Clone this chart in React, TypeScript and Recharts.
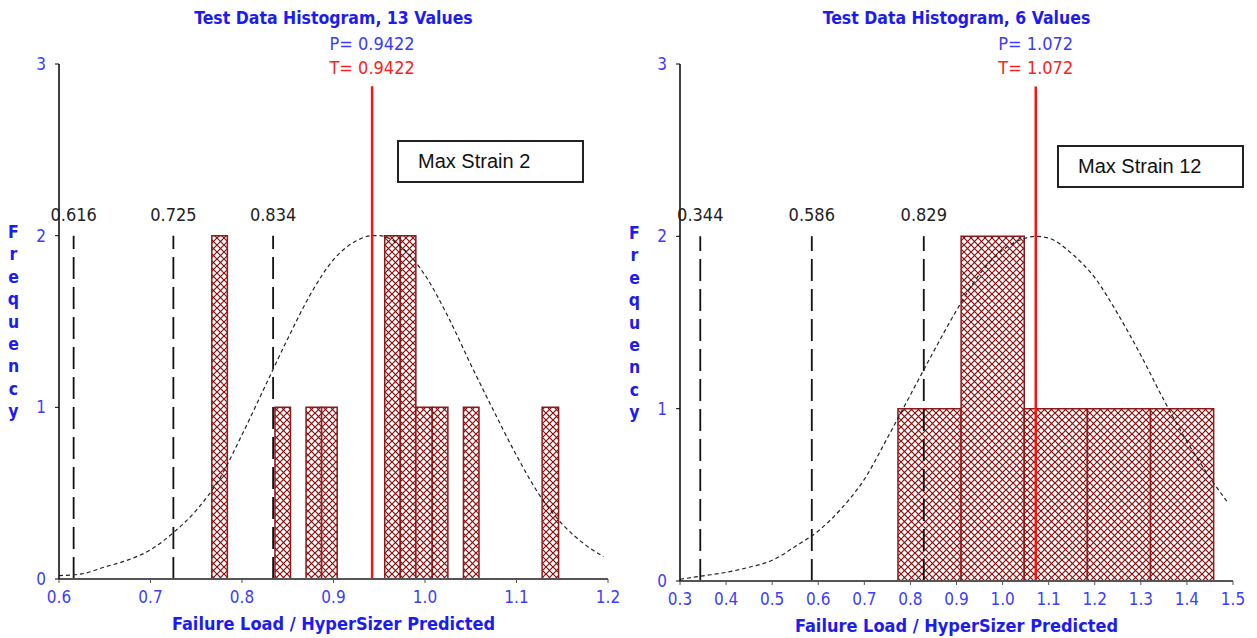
import React from 'react';
import {
  ComposedChart,
  Line,
  XAxis,
  YAxis,
  ReferenceArea,
  ReferenceLine,
} from 'recharts';

const TAHOMA = '"DejaVu Sans Condensed", "DejaVu Sans", sans-serif';
const ARIAL = '"Liberation Sans", Arial, sans-serif';
const BLUE = '#1c1cf0';
const TICK_BLUE = '#3c3cff';
const BAR_RED = '#8b1a1a';

// --- Max Strain 2: 13 test values ---
const leftBinFrom = [0.767, 0.836, 0.87, 0.887, 0.956, 0.973, 0.99, 1.008, 1.042, 1.128];
const leftBinTo = [0.784, 0.853, 0.887, 0.904, 0.973, 0.99, 1.008, 1.025, 1.059, 1.146];
const leftCounts = [2, 1, 1, 1, 2, 2, 1, 1, 1, 1];
const leftCurveX = [
  0.6, 0.625, 0.65, 0.675, 0.7, 0.725, 0.75, 0.775, 0.8, 0.825, 0.85, 0.875, 0.9,
  0.925, 0.9422, 0.95, 0.975, 1.0, 1.025, 1.05, 1.075, 1.1, 1.125, 1.15, 1.175, 1.195,
];
const leftCurveY = [
  0.02, 0.03, 0.07, 0.11, 0.17, 0.27, 0.4, 0.58, 0.84, 1.12, 1.4, 1.66, 1.86,
  1.97, 2.0, 2.0, 1.93, 1.77, 1.53, 1.25, 0.98, 0.72, 0.49, 0.32, 0.2, 0.13,
];
const leftBounds = [0.616, 0.725, 0.834];
const leftMean = 0.9422;
const leftTicks = [0.6, 0.7, 0.8, 0.9, 1.0, 1.1, 1.2];

// --- Max Strain 12: 6 test values ---
const rightBinFrom = [0.773, 0.91, 1.047, 1.184, 1.321];
const rightBinTo = [0.91, 1.047, 1.184, 1.321, 1.458];
const rightCounts = [1, 2, 1, 1, 1];
const rightCurveX = [
  0.3, 0.35, 0.4, 0.45, 0.5, 0.55, 0.6, 0.65, 0.7, 0.75, 0.8, 0.85, 0.9, 0.95,
  1.0, 1.05, 1.072, 1.1, 1.15, 1.2, 1.25, 1.3, 1.35, 1.4, 1.45, 1.49,
];
const rightCurveY = [
  0.01, 0.03, 0.05, 0.08, 0.12, 0.2, 0.29, 0.42, 0.59, 0.83, 1.08, 1.33, 1.57, 1.78,
  1.92, 1.99, 2.0, 1.99, 1.9, 1.76, 1.55, 1.31, 1.05, 0.81, 0.6, 0.45,
];
const rightBounds = [0.344, 0.586, 0.829];
const rightMean = 1.072;
const rightTicks = [0.3, 0.4, 0.5, 0.6, 0.7, 0.8, 0.9, 1.0, 1.1, 1.2, 1.3, 1.4, 1.5];

const freqTicks = [0, 1, 2, 3];
// top of the red mean marker, in frequency units
const MEAN_TOP = 2.87;

const FreqLabel = (props: any) => {
  const { viewBox } = props;
  const letters = 'Frequency'.split('');
  const cx = viewBox.x - 5.5;
  const step = 22.4;
  const first = viewBox.y + viewBox.height / 2 - 4 * step + 6;
  return (
    <text textAnchor="middle" fill={BLUE} fontFamily={TAHOMA} fontWeight="bold" fontSize={17.5}>
      {letters.map((ch, i) => (
        <tspan key={i} x={cx} y={first + i * step}>
          {ch}
        </tspan>
      ))}
    </text>
  );
};

interface HistProps {
  width: number;
  margin: { top: number; right: number; bottom: number; left: number };
  title: string;
  note: string;
  noteLeft: number;
  noteTop: number;
  binFrom: number[];
  binTo: number[];
  counts: number[];
  curveX: number[];
  curveY: number[];
  bounds: number[];
  mean: number;
  ticks: number[];
}

function Histogram(p: HistProps) {
  const height = 638;
  const yAxisW = 40;
  const plotLeft = p.margin.left + yAxisW;
  const plotW = p.width - plotLeft - p.margin.right;
  const curve = p.curveX.map((x, i) => ({ x, y: p.curveY[i] }));
  const lastBin = p.binTo[p.binTo.length - 1];
  const meanText = String(p.mean);

  return (
    <div style={{ position: 'relative', width: p.width, height }}>
      <div
        style={{
          position: 'absolute',
          left: plotLeft,
          width: plotW,
          top: 8,
          textAlign: 'center',
          fontFamily: TAHOMA,
          fontWeight: 'bold',
          fontSize: 17.5,
          lineHeight: '20px',
          color: BLUE,
        }}
      >
        {p.title}
      </div>
      <div
        style={{
          position: 'absolute',
          left: p.noteLeft,
          top: p.noteTop,
          width: 183,
          height: 39,
          border: '2px solid #222',
          boxSizing: 'content-box',
          display: 'flex',
          alignItems: 'center',
          fontFamily: ARIAL,
          fontSize: 20,
          color: '#111',
          background: '#fff',
          zIndex: 2,
        }}
      >
        <span style={{ marginLeft: 19 }}>{p.note}</span>
      </div>
      <ComposedChart width={p.width} height={height} data={curve} margin={p.margin}>
        <XAxis
          dataKey="x"
          type="number"
          domain={[p.ticks[0], p.ticks[p.ticks.length - 1]]}
          ticks={p.ticks}
          interval={0}
          allowDataOverflow
          tickFormatter={(v: number) => v.toFixed(1)}
          tick={{ fill: TICK_BLUE, fontSize: 17, fontFamily: TAHOMA }}
          tickSize={4}
          tickMargin={8}
          axisLine={{ stroke: '#555', strokeWidth: 2 }}
          tickLine={{ stroke: '#555' }}
          height={30}
          label={{
            value: 'Failure Load / HyperSizer Predicted',
            position: 'bottom',
            offset: 8,
            fill: BLUE,
            fontSize: 18,
            fontWeight: 'bold',
            fontFamily: TAHOMA,
          }}
        />
        <YAxis
          type="number"
          domain={[0, 3]}
          ticks={freqTicks}
          interval={0}
          width={yAxisW}
          tick={{ fill: TICK_BLUE, fontSize: 17, fontFamily: TAHOMA }}
          tickSize={4}
          tickMargin={9}
          axisLine={{ stroke: '#000', strokeWidth: 1.5 }}
          tickLine={{ stroke: '#000' }}
          label={<FreqLabel />}
        />
        {p.counts.map((c, i) => (
          <ReferenceArea
            key={'bin' + i}
            x1={p.binFrom[i]}
            x2={p.binTo[i]}
            y1={0}
            y2={c}
            fill="url(#xhatch)"
            fillOpacity={1}
            stroke={BAR_RED}
            strokeWidth={1.5}
            strokeOpacity={1}
          />
        ))}
        <ReferenceLine
          segment={[
            { x: p.binFrom[0], y: 0 },
            { x: lastBin, y: 0 },
          ]}
          stroke="#a04848"
          strokeWidth={2}
        />
        {p.bounds.map((b) => (
          <ReferenceLine
            key={'b' + b}
            segment={[
              { x: b, y: 0 },
              { x: b, y: 2 },
            ]}
            stroke="#111"
            strokeWidth={1.8}
            strokeDasharray="22 8"
            label={{
              value: b.toFixed(3),
              position: 'top',
              offset: 15,
              fill: '#222',
              fontSize: 18,
              fontFamily: TAHOMA,
            }}
          />
        ))}
        <Line
          dataKey="y"
          type="monotone"
          stroke="#222"
          strokeWidth={1.2}
          strokeDasharray="4 3"
          dot={false}
          activeDot={false}
          isAnimationActive={false}
        />
        <ReferenceLine
          segment={[
            { x: p.mean, y: 0 },
            { x: p.mean, y: MEAN_TOP },
          ]}
          stroke="#ff1010"
          strokeWidth={2.5}
          label={(lp: any) => (
            <g fontFamily={TAHOMA} fontSize={18} textAnchor="middle">
              <text x={lp.viewBox.x} y={lp.viewBox.y - 36} fill="#3a3aff">
                {'P= ' + meanText}
              </text>
              <text x={lp.viewBox.x} y={lp.viewBox.y - 12} fill="#ff2020">
                {'T= ' + meanText}
              </text>
            </g>
          )}
        />
      </ComposedChart>
    </div>
  );
}

export default function App() {
  return (
    <div
      style={{
        position: 'absolute',
        left: 0,
        top: 0,
        width: 1257,
        height: 638,
        display: 'flex',
        background: '#fff',
        overflow: 'hidden',
      }}
    >
      <svg width={0} height={0} style={{ position: 'absolute' }}>
        <defs>
          <pattern id="xhatch" patternUnits="userSpaceOnUse" width={7} height={7}>
            <rect width={7} height={7} fill="#fff" />
            <path d="M0,0 L7,7 M7,0 L0,7" stroke="#8b0a0a" strokeWidth={1.2} />
          </pattern>
        </defs>
      </svg>
      <Histogram
        width={628}
        margin={{ top: 64, right: 20, bottom: 29, left: 19 }}
        title="Test Data Histogram, 13 Values"
        note="Max Strain 2"
        noteLeft={397}
        noteTop={140}
        binFrom={leftBinFrom}
        binTo={leftBinTo}
        counts={leftCounts}
        curveX={leftCurveX}
        curveY={leftCurveY}
        bounds={leftBounds}
        mean={leftMean}
        ticks={leftTicks}
      />
      <Histogram
        width={629}
        margin={{ top: 64, right: 24, bottom: 27, left: 12 }}
        title="Test Data Histogram, 6 Values"
        note="Max Strain 12"
        noteLeft={429}
        noteTop={145}
        binFrom={rightBinFrom}
        binTo={rightBinTo}
        counts={rightCounts}
        curveX={rightCurveX}
        curveY={rightCurveY}
        bounds={rightBounds}
        mean={rightMean}
        ticks={rightTicks}
      />
    </div>
  );
}
